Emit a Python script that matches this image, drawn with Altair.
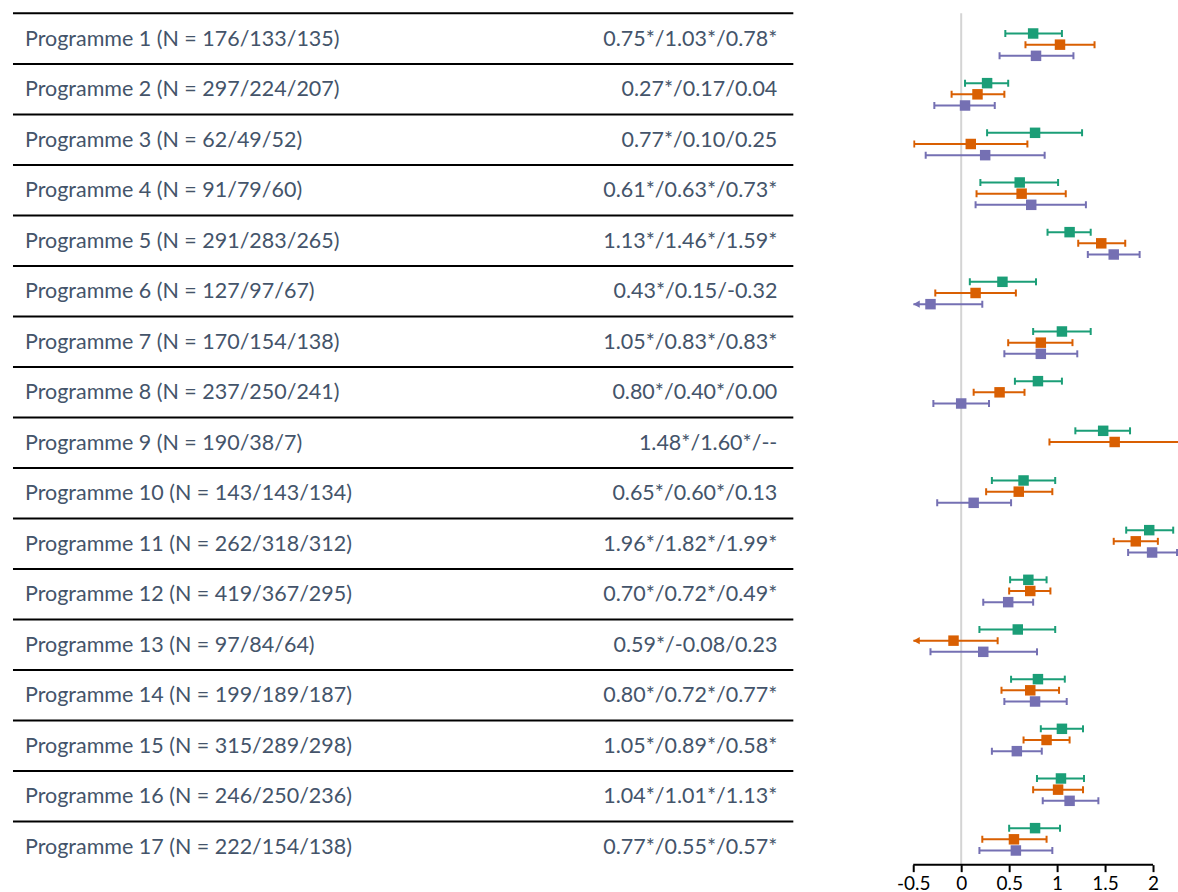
import altair as alt
import pandas as pd

# ---- data -----------------------------------------------------------------
programmes = [f"Programme {i}" for i in range(1, 18)]
series = ["Wave 1", "Wave 2", "Wave 3"]
colors = ["#1b9e77", "#d95f02", "#7570b3"]

n_1 = [176, 297, 62, 91, 291, 127, 170, 237, 190, 143, 262, 419, 97, 199, 315, 246, 222]
n_2 = [133, 224, 49, 79, 283, 97, 154, 250, 38, 143, 318, 367, 84, 189, 289, 250, 154]
n_3 = [135, 207, 52, 60, 265, 67, 138, 241, 7, 134, 312, 295, 64, 187, 298, 236, 138]

est_1 = [0.75, 0.27, 0.77, 0.61, 1.13, 0.43, 1.05, 0.80, 1.48, 0.65, 1.96, 0.70, 0.59, 0.80, 1.05, 1.04, 0.77]
lo_1 = [0.46, 0.04, 0.27, 0.20, 0.90, 0.09, 0.75, 0.56, 1.19, 0.32, 1.72, 0.51, 0.19, 0.52, 0.83, 0.79, 0.50]
hi_1 = [1.05, 0.49, 1.26, 1.01, 1.35, 0.78, 1.35, 1.05, 1.76, 0.98, 2.21, 0.89, 0.98, 1.08, 1.27, 1.28, 1.03]

est_2 = [1.03, 0.17, 0.10, 0.63, 1.46, 0.15, 0.83, 0.40, 1.60, 0.60, 1.82, 0.72, -0.08, 0.72, 0.89, 1.01, 0.55]
lo_2 = [0.67, -0.10, -0.49, 0.16, 1.22, -0.27, 0.49, 0.13, 0.92, 0.26, 1.59, 0.50, -0.60, 0.42, 0.65, 0.75, 0.22]
hi_2 = [1.39, 0.45, 0.69, 1.09, 1.71, 0.57, 1.16, 0.66, 2.30, 0.95, 2.05, 0.93, 0.38, 1.02, 1.13, 1.27, 0.89]

est_3 = [0.78, 0.04, 0.25, 0.73, 1.59, -0.32, 0.83, 0.00, None, 0.13, 1.99, 0.49, 0.23, 0.77, 0.58, 1.13, 0.57]
lo_3 = [0.40, -0.28, -0.37, 0.15, 1.32, -0.60, 0.45, -0.29, None, -0.25, 1.74, 0.23, -0.32, 0.45, 0.32, 0.85, 0.19]
hi_3 = [1.17, 0.35, 0.87, 1.30, 1.86, 0.22, 1.21, 0.29, None, 0.52, 2.25, 0.75, 0.79, 1.10, 0.84, 1.43, 0.95]

tick_values = [-0.5, 0, 0.5, 1, 1.5, 2]

# ---- layout constants -------------------------------------------------------
X_MIN, X_MAX = -0.5, 2.26          # forest x scale (axis drawn from -0.5 to 2)
TEXT_COLOR = "#44546A"
FONT = "Lato"
TEXT_SIZE = 21.5
OFFSETS = [-0.225, 0.0, 0.225]     # vertical offset of each series within a row

# ---- tables -----------------------------------------------------------------
ests = [est_1, est_2, est_3]
los = [lo_1, lo_2, lo_3]
his = [hi_1, hi_2, hi_3]


def fmt(e, lo):
    if e is None:
        return "--"
    star = "*" if lo > 0 else ""
    return f"{e:.2f}{star}"


table_rows = []
for i, name in enumerate(programmes):
    label = f"{name} (N = {n_1[i]}/{n_2[i]}/{n_3[i]})"
    value = "/".join(fmt(ests[s][i], los[s][i]) for s in range(3))
    table_rows.append({"pos": i, "label": label, "value": value, "line": i - 0.5})
table = pd.DataFrame(table_rows)

forest_rows, cap_rows, arrow_rows = [], [], []
for i in range(len(programmes)):
    for s, sname in enumerate(series):
        e = ests[s][i]
        if e is None:
            continue
        lo, hi = los[s][i], his[s][i]
        pos = i + OFFSETS[s]
        truncated = lo < X_MIN
        lo_draw = max(lo, X_MIN)
        forest_rows.append({"pos": pos, "series": sname, "est": e, "lo": lo_draw, "hi": hi})
        cap_rows.append({"pos": pos, "series": sname, "x": hi})
        if truncated:
            arrow_rows.append({"pos": pos, "series": sname, "x": lo_draw})
        else:
            cap_rows.append({"pos": pos, "series": sname, "x": lo})
forest = pd.DataFrame(forest_rows)
caps = pd.DataFrame(cap_rows)
arrows = pd.DataFrame(arrow_rows)

# ---- left: table ------------------------------------------------------------
ty = alt.Scale(domain=[-0.5, 16.5], reverse=True, nice=False, zero=False)
base_t = alt.Chart(table)

lines = base_t.mark_rule(color="black", strokeWidth=2).encode(
    y=alt.Y("line:Q", scale=ty, axis=None)
)
labels = base_t.mark_text(
    align="left", baseline="middle", font=FONT, fontSize=TEXT_SIZE, color=TEXT_COLOR, dy=1
).encode(y=alt.Y("pos:Q", scale=ty, axis=None), x=alt.value(12), text="label:N")
values = base_t.mark_text(
    align="right", baseline="middle", font=FONT, fontSize=TEXT_SIZE, color=TEXT_COLOR, dy=1
).encode(y=alt.Y("pos:Q", scale=ty, axis=None), x=alt.value(765), text="value:N")

left = alt.layer(lines, labels, values).properties(width=781, height=859.5)

# ---- right: forest plot -----------------------------------------------------
fx = alt.Scale(domain=[X_MIN, X_MAX], nice=False, zero=False)
fy = alt.Scale(domain=[-0.63, 16.51], reverse=True, nice=False, zero=False)
col = alt.Color("series:N", scale=alt.Scale(domain=series, range=colors), legend=None)

zero_line = alt.Chart(pd.DataFrame({"v": [0]})).mark_rule(
    color="#d4d4d4", strokeWidth=2
).encode(
    x=alt.X(
        "v:Q",
        scale=fx,
        axis=alt.Axis(
            values=tick_values,
            domain=False,
            grid=False,
            title=None,
            tickColor="black",
            tickWidth=2,
            tickSize=7,
            labelColor="black",
            labelFont=FONT,
            labelFontSize=19,
            labelPadding=3,
            labelFlush=False,
            labelExpr="datum.value < 0 ? '-' + format(-datum.value, '') : format(datum.value, '')",
        ),
    )
)

axis_line = alt.Chart(pd.DataFrame({"a": [tick_values[0]], "b": [tick_values[-1]]})).mark_rule(
    color="black", strokeWidth=2
).encode(x=alt.X("a:Q", scale=fx), x2="b:Q", y=alt.value("height"))

bars = alt.Chart(forest).mark_rule(strokeWidth=2, clip=True).encode(
    x=alt.X("lo:Q", scale=fx), x2="hi:Q", y=alt.Y("pos:Q", scale=fy, axis=None), color=col
)
cap_marks = alt.Chart(caps).mark_tick(
    orient="vertical", size=7, thickness=2, clip=True, opacity=1
).encode(x=alt.X("x:Q", scale=fx), y=alt.Y("pos:Q", scale=fy, axis=None), color=col)
arrow_marks = alt.Chart(arrows).mark_point(
    shape="M0,0L1,-0.55L1,0.55Z", filled=True, size=169, opacity=1
).encode(x=alt.X("x:Q", scale=fx), y=alt.Y("pos:Q", scale=fy, axis=None), color=col)
points = alt.Chart(forest).mark_square(size=110, opacity=1).encode(
    x=alt.X("est:Q", scale=fx), y=alt.Y("pos:Q", scale=fy, axis=None), color=col
)

right = alt.layer(zero_line, axis_line, bars, cap_marks, arrow_marks, points).properties(
    width=265, height=852
)

chart = (
    alt.hconcat(left, right, spacing=120, bounds="flush")
    .properties(padding={"left": 12, "top": 12, "right": 0, "bottom": 0})
    .configure_view(stroke=None)
)

chart.save("out.html", embed_options={"renderer": "svg", "actions": False})
